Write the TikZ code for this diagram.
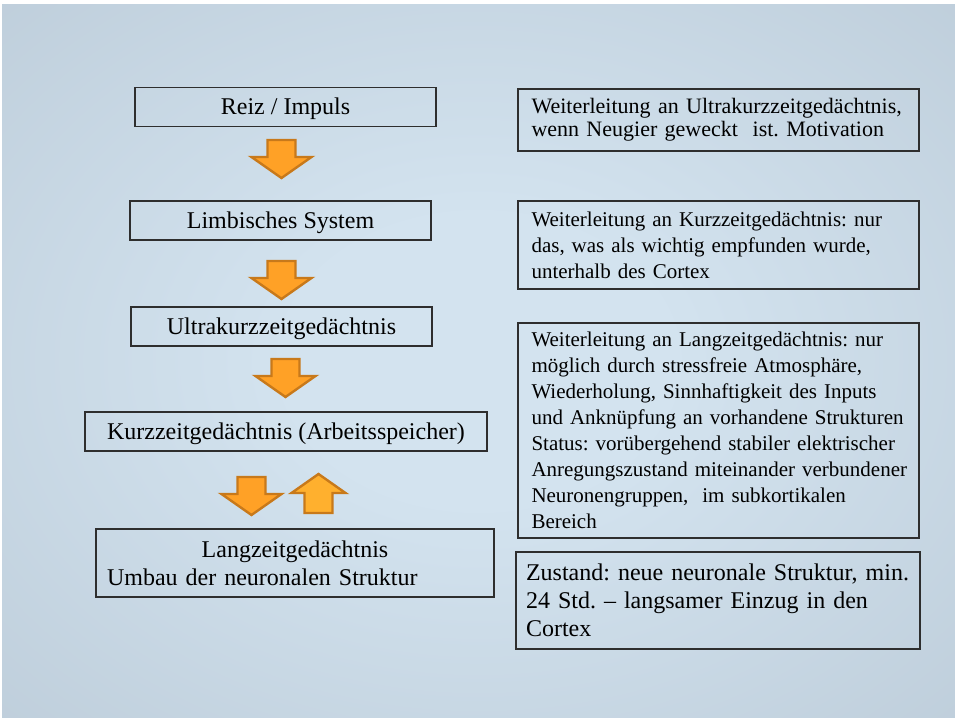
\documentclass[tikz,border=0pt]{standalone}
\usepackage{fontspec}
\setmainfont{Liberation Serif}
\frenchspacing
\definecolor{bgin}{HTML}{D3E3EF}
\definecolor{bgout}{HTML}{A3B2C0}
\definecolor{boxline}{HTML}{2E2E2E}
\definecolor{arrfill}{HTML}{FFA126}
\definecolor{arrfillup}{HTML}{FFB02E}
\definecolor{arredge}{HTML}{C8791A}
\pgfdeclareradialshading{slidebg}{\pgfpoint{0bp}{0bp}}{color(0bp)=(bgin); color(10bp)=(bgin); color(72bp)=(bgout)}
\tikzset{
  arrstyle/.style={draw=arredge, line width=2.4pt, line join=miter},
  pics/blockdown/.style={code={
    \draw[arrstyle, fill=arrfill] (-14,0) -- (14,0) -- (14,17) -- (30,17) -- (0,38) -- (-30,17) -- (-14,17) -- cycle;}},
  pics/blockup/.style={code={
    \draw[arrstyle, fill=arrfillup] (0,0) -- (27,19) -- (14,19) -- (14,39) -- (-14,39) -- (-14,19) -- (-27,19) -- cycle;}},
  lbox/.style={draw=boxline, line width=1.3pt, minimum height=39pt, inner sep=0pt,
    text height=21pt, text depth=5pt, font=\fontsize{24}{28}\selectfont},
  rbox/.style={draw=boxline, line width=1.3pt, minimum width=401pt, text width=374pt,
    inner xsep=13.5pt, inner ysep=2pt, align=left}
}
\begin{document}
\begin{tikzpicture}[x=1pt,y=-1pt]
\useasboundingbox (0,0) rectangle (955,719);
\fill[white] (0,0) rectangle (955,719);
\shade[shading=slidebg] (2,5) rectangle (955,717);

% left column
\node[lbox, minimum width=301pt] (reiz) at (285.5,107) {Reiz / Impuls};
\node[lbox, minimum width=301pt] (limb) at (280.5,220.5) {Limbisches System};
\node[lbox, minimum width=301pt] (ukzg) at (281.5,326.5) {Ultrakurzzeitgedächtnis};
\node[lbox, minimum width=402pt] (kzg) at (286,431.5) {Kurzzeitgedächtnis (Arbeitsspeicher)};
\node[draw=boxline, line width=1.3pt, inner sep=0pt, font=\fontsize{24}{28}\selectfont,
  minimum width=398pt, minimum height=68pt, text width=376pt, align=left, inner xsep=11pt]
  (lzg) at (295,563) {\makebox[376pt][c]{Langzeitgedächtnis}\\\mbox{Umbau der neuronalen Struktur}};

% block arrows
\pic at (281.5,140) {blockdown};
\pic at (281.5,261) {blockdown};
\pic at (285.5,359) {blockdown};
\pic at (251.5,477) {blockdown};
\pic at (318.5,474) {blockup};

% right column
\node[rbox, font=\fontsize{22}{23}\selectfont, minimum height=62pt] (r1) at (718.5,120)
  {\mbox{Weiterleitung an Ultrakurzzeitgedächtnis,}\\\mbox{wenn Neugier geweckt \ ist. Motivation}};
\node[rbox, font=\fontsize{21}{26}\selectfont, minimum height=88pt] (r2) at (718.5,245)
  {\mbox{Weiterleitung an Kurzzeitgedächtnis: nur}\\\mbox{das, was als wichtig empfunden wurde,}\\\mbox{unterhalb des Cortex}};
\node[rbox, font=\fontsize{21}{26}\selectfont, minimum height=215pt] (r3) at (718.5,430.5)
  {\mbox{Weiterleitung an Langzeitgedächtnis: nur}\\\mbox{möglich durch stressfreie Atmosphäre,}\\\mbox{Wiederholung, Sinnhaftigkeit des Inputs}\\\mbox{und Anknüpfung an vorhandene Strukturen}\\\mbox{Status: vorübergehend stabiler elektrischer}\\\mbox{Anregungszustand miteinander verbundener}\\\mbox{Neuronengruppen, \ im subkortikalen}\\\mbox{Bereich}};
\node[rbox, font=\fontsize{24}{28}\selectfont, minimum width=404pt, text width=384pt, inner xsep=10pt,
  minimum height=97pt] (r4) at (718,600.5)
  {\mbox{Zustand: neue neuronale Struktur, min.}\\\mbox{24 Std. – langsamer Einzug in den}\\\mbox{Cortex}};
\end{tikzpicture}
\end{document}
